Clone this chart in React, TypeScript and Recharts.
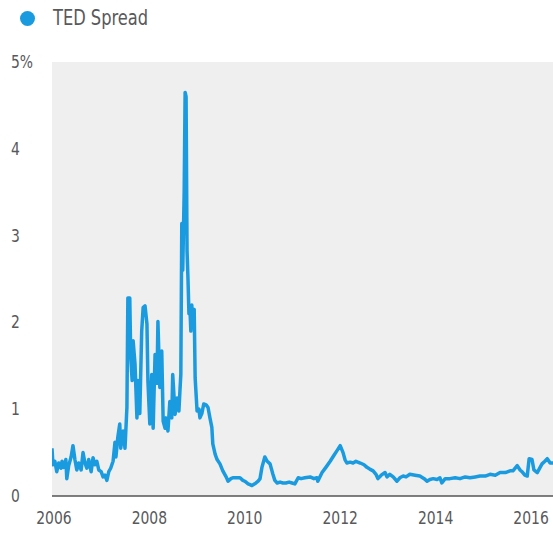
import { LineChart, Line, XAxis, YAxis, CartesianGrid } from "recharts"

const BLUE = "#1a9be0"
const TEXT = "#58595b"
const FONT = '"Liberation Sans Narrow", "Arial Narrow", "DejaVu Sans Condensed", sans-serif'

// decimal years
const dates = [
  2005.96, 2005.98, 2006.02, 2006.06, 2006.10, 2006.15, 2006.17, 2006.21, 2006.25, 2006.27,
  2006.31, 2006.36, 2006.40, 2006.44, 2006.48, 2006.52, 2006.57, 2006.61, 2006.65, 2006.69,
  2006.73, 2006.78, 2006.82, 2006.86, 2006.90, 2006.94, 2006.99, 2007.03, 2007.07, 2007.11,
  2007.15, 2007.19, 2007.24, 2007.28, 2007.30, 2007.34, 2007.38, 2007.40, 2007.45, 2007.49,
  2007.53, 2007.55, 2007.59, 2007.61, 2007.64, 2007.66, 2007.70, 2007.74, 2007.76, 2007.80,
  2007.84, 2007.87, 2007.91, 2007.95, 2007.97, 2008.01, 2008.05, 2008.08, 2008.12, 2008.16,
  2008.18, 2008.22, 2008.26, 2008.29, 2008.33, 2008.35, 2008.39, 2008.43, 2008.47, 2008.49,
  2008.54, 2008.58, 2008.62, 2008.64, 2008.66, 2008.68, 2008.70, 2008.73, 2008.75, 2008.77,
  2008.79, 2008.81, 2008.83, 2008.85, 2008.87, 2008.89, 2008.91, 2008.94, 2008.96, 2009.00,
  2009.04, 2009.06, 2009.10, 2009.14, 2009.19, 2009.23, 2009.27, 2009.31, 2009.33, 2009.38,
  2009.42, 2009.48, 2009.54, 2009.61, 2009.65, 2009.71, 2009.75, 2009.82, 2009.90, 2009.96,
  2010.00, 2010.07, 2010.11, 2010.15, 2010.21, 2010.28, 2010.32, 2010.36, 2010.42, 2010.47,
  2010.53, 2010.59, 2010.63, 2010.68, 2010.74, 2010.80, 2010.86, 2010.93, 2010.99, 2011.05,
  2011.12, 2011.18, 2011.26, 2011.37, 2011.45, 2011.51, 2011.53, 2011.62, 2011.70, 2011.79,
  2011.87, 2011.93, 2012.00, 2012.06, 2012.10, 2012.14, 2012.21, 2012.27, 2012.33, 2012.42,
  2012.50, 2012.56, 2012.62, 2012.69, 2012.75, 2012.79, 2012.86, 2012.94, 2012.98, 2013.04,
  2013.11, 2013.19, 2013.25, 2013.32, 2013.38, 2013.46, 2013.57, 2013.67, 2013.76, 2013.82,
  2013.88, 2013.95, 2014.03, 2014.09, 2014.13, 2014.20, 2014.30, 2014.41, 2014.51, 2014.62,
  2014.72, 2014.83, 2014.93, 2015.04, 2015.14, 2015.25, 2015.35, 2015.46, 2015.56, 2015.62,
  2015.71, 2015.77, 2015.81, 2015.87, 2015.92, 2015.96, 2016.02, 2016.06, 2016.13, 2016.19,
  2016.23, 2016.29, 2016.34, 2016.40, 2016.46,
]

// TED spread, percent
const tedSpread = [
  0.55, 0.36, 0.40, 0.28, 0.38, 0.32, 0.40, 0.33, 0.42, 0.20,
  0.35, 0.45, 0.58, 0.42, 0.30, 0.38, 0.30, 0.50, 0.38, 0.32,
  0.42, 0.28, 0.44, 0.36, 0.40, 0.30, 0.28, 0.22, 0.24, 0.18,
  0.28, 0.32, 0.40, 0.62, 0.45, 0.68, 0.83, 0.55, 0.75, 0.55,
  1.02, 2.28, 2.28, 1.60, 1.33, 1.79, 1.52, 0.90, 1.33, 0.95,
  1.90, 2.17, 2.19, 1.98, 1.33, 0.83, 1.40, 0.78, 1.63, 1.30,
  2.01, 1.25, 1.67, 0.86, 0.78, 0.90, 0.75, 1.09, 0.90, 1.40,
  0.94, 1.13, 0.98, 1.20, 1.40, 3.14, 2.60, 3.50, 4.65, 4.60,
  2.83, 2.50, 2.10, 2.17, 1.90, 2.20, 1.95, 2.15, 1.36, 0.98,
  1.00, 0.90, 0.95, 1.06, 1.05, 1.02, 0.90, 0.79, 0.60, 0.48,
  0.42, 0.37, 0.29, 0.22, 0.17, 0.20, 0.21, 0.21, 0.21, 0.18,
  0.17, 0.14, 0.13, 0.12, 0.14, 0.17, 0.20, 0.33, 0.45, 0.40,
  0.37, 0.25, 0.18, 0.15, 0.16, 0.15, 0.15, 0.16, 0.15, 0.14,
  0.21, 0.20, 0.21, 0.22, 0.20, 0.21, 0.17, 0.27, 0.33, 0.40,
  0.47, 0.52, 0.58, 0.50, 0.42, 0.38, 0.39, 0.38, 0.40, 0.38,
  0.36, 0.33, 0.31, 0.29, 0.25, 0.20, 0.24, 0.27, 0.22, 0.25,
  0.22, 0.17, 0.21, 0.23, 0.22, 0.25, 0.24, 0.23, 0.20, 0.17,
  0.19, 0.20, 0.19, 0.21, 0.15, 0.20, 0.20, 0.21, 0.20, 0.22,
  0.21, 0.22, 0.23, 0.23, 0.25, 0.24, 0.27, 0.27, 0.29, 0.29,
  0.35, 0.30, 0.28, 0.24, 0.23, 0.43, 0.42, 0.30, 0.27, 0.33,
  0.37, 0.40, 0.43, 0.38, 0.38,
]

const yearTicks = [2006, 2008, 2010, 2012, 2014, 2016]
const valueTicks = [0, 1, 2, 3, 4, 5]

const data = dates.map((d, i) => ({ date: d, ted: tedSpread[i] }))

// narrow the fallback font so labels read as condensed
const YTick = ({ y, payload }: any) => (
  <text
    transform={`translate(11, ${y + 6}) scale(0.86, 1)`}
    textAnchor="start"
    fill={TEXT}
    fontSize={18}
    fontFamily={FONT}
  >
    {payload.value === 5 ? "5%" : payload.value}
  </text>
)

const XTick = ({ x, y, payload }: any) => (
  <text
    transform={`translate(${x}, ${y + 20}) scale(0.86, 1)`}
    textAnchor="middle"
    fill={TEXT}
    fontSize={18}
    fontFamily={FONT}
  >
    {payload.value}
  </text>
)

export default function App() {
  return (
    <div style={{ position: "absolute", left: 0, top: 0, width: 553, height: 533, background: "#fff" }}>
      <div style={{ position: "absolute", left: 20, top: 11, width: 15, height: 15, borderRadius: "50%", background: BLUE }} />
      <div
        style={{
          position: "absolute",
          left: 53,
          top: 4,
          fontFamily: FONT,
          fontSize: 21,
          color: TEXT,
          lineHeight: "28px",
          whiteSpace: "nowrap",
          transform: "scaleX(0.86)",
          transformOrigin: "left center",
        }}
      >
        TED Spread
      </div>
      <LineChart width={553} height={533} data={data} margin={{ top: 62, right: 0, bottom: 0, left: 0 }}>
        <CartesianGrid horizontal={false} vertical={false} fill="#efefef" fillOpacity={1} />
        <XAxis
          dataKey="date"
          type="number"
          domain={[2005.96, 2016.46]}
          ticks={yearTicks}
          allowDataOverflow
          height={37}
          tickLine={false}
          axisLine={{ stroke: "#555", strokeWidth: 1.5 }}
          tick={<XTick />}
          interval={0}
        />
        <YAxis
          type="number"
          domain={[0, 5]}
          ticks={valueTicks}
          width={52}
          tickLine={false}
          axisLine={false}
          tick={<YTick />}
          interval={0}
        />
        <Line
          type="linear"
          dataKey="ted"
          stroke={BLUE}
          strokeWidth={3.5}
          dot={false}
          strokeLinejoin="round"
          isAnimationActive={false}
        />
      </LineChart>
    </div>
  )
}
